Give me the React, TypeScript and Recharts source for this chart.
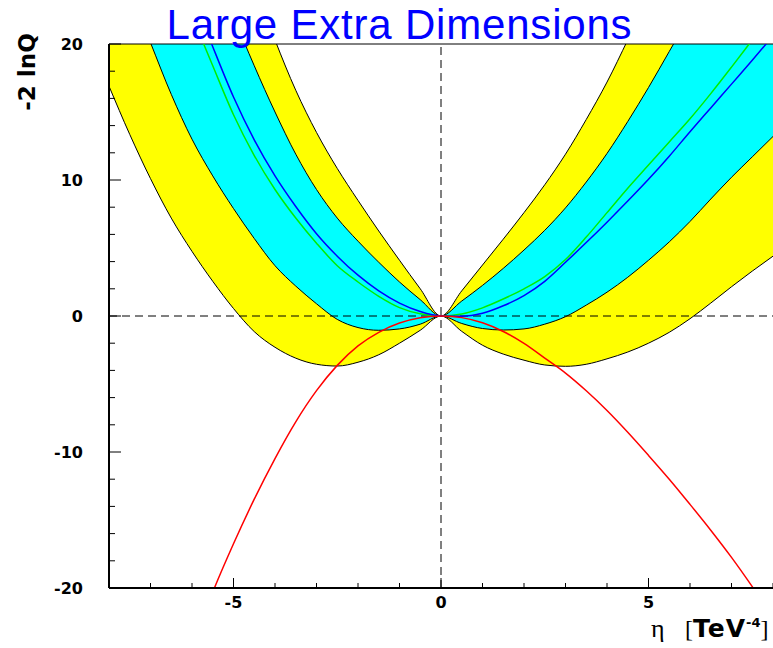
import React from "react";
import {
  ComposedChart, Area, Line, XAxis, YAxis, ReferenceLine,
} from "recharts";

// eta grid in TeV^-4
const eta = [
  -8, -7.5, -7, -6.5, -6, -5.5, -5, -4.5, -4, -3.5, -3, -2.5, -2, -1.5, -1, -0.5,
  0, 0.5, 1, 1.5, 2, 2.5, 3, 3.5, 4, 4.5, 5, 5.5, 6, 6.5, 7, 7.5, 8,
];

// -2lnQ, 2 sigma band edges
const band2Low = [
  16.9, 13.35, 10.1, 7.2, 4.75, 2.55, 0.55, -1.15, -2.3, -3.1, -3.55, -3.68, -3.4, -2.85, -2.0, -1.05,
  0, -1.13, -2.15, -2.8, -3.25, -3.6, -3.7, -3.55, -3.15, -2.65, -2.0, -1.2, -0.2, 0.95, 2.15, 3.3, 4.4,
];
const band2High = [
  60, 54, 48.5, 43, 38, 33, 28.6, 24.5, 20.3, 16.6, 13.5, 10.85, 8.5, 6.25, 4.1, 2.0,
  0, 1.85, 3.75, 5.65, 7.6, 9.65, 11.9, 14.45, 17.2, 20.3, 23.5, 27, 30.5, 34, 38, 42, 46,
];

// -2lnQ, 1 sigma band edges
const band1Low = [
  28, 24, 20.1, 16.3, 13.0, 10.3, 7.9, 5.7, 3.7, 2.2, 0.9, -0.25, -0.85, -1.05, -0.95, -0.6,
  0, -0.55, -0.92, -1.03, -0.95, -0.6, -0.05, 0.8, 1.75, 2.85, 4.1, 5.45, 6.95, 8.6, 10.2, 11.7, 13.2,
];
const band1High = [
  50, 45, 40, 35.5, 31, 26.5, 22.1, 18.4, 15.0, 11.9, 9.3, 7.2, 5.5, 3.95, 2.5, 1.2,
  0, 1.1, 2.25, 3.5, 4.85, 6.3, 7.95, 9.85, 11.95, 14.3, 16.8, 19.45, 22.1, 24.8, 27.6, 30.5, 33.4,
];

// median curves and observed
const greenCurve = [
  39, 34.5, 30.2, 26, 22.1, 18.4, 14.8, 11.8, 9.3, 7.2, 5.35, 3.7, 2.5, 1.45, 0.62, 0.16,
  0, 0.15, 0.6, 1.25, 2.0, 2.9, 4.15, 5.8, 7.6, 9.4, 11.1, 12.8, 14.5, 16.35, 18.3, 20.3, 22.3,
];
const blueCurve = [
  41, 36.3, 31.9, 27.7, 23.7, 19.8, 16.1, 12.95, 10.3, 8.05, 6.05, 4.4, 3.0, 1.85, 0.95, 0.33,
  0, -0.02, 0.2, 0.75, 1.5, 2.55, 3.95, 5.4, 6.9, 8.45, 10.05, 11.75, 13.55, 15.3, 17.05, 18.8, 20.6,
];
const redCurve = [
  -43, -37.8, -33, -28.5, -24.3, -20.3, -16.75, -13.47, -10.48, -7.78, -5.49, -3.63, -2.2, -1.2, -0.52, -0.13,
  0, -0.12, -0.5, -1.14, -2.02, -3.1, -4.2, -5.5, -6.95, -8.55, -10.25, -12.0, -13.85, -15.75, -17.75, -19.9, -22.15,
];

const xTicks = [-8, -7, -6, -5, -4, -3, -2, -1, 0, 1, 2, 3, 4, 5, 6, 7, 8];
const xLabels = [-5, 0, 5];
const yTicks = [-20, -18, -16, -14, -12, -10, -8, -6, -4, -2, 0, 2, 4, 6, 8, 10, 12, 14, 16, 18, 20];
const yLabels = [-20, -10, 0, 10, 20];

const rows = eta.map((x, i) => ({
  x,
  band2: [band2Low[i], band2High[i]],
  band1: [band1Low[i], band1High[i]],
  green: greenCurve[i],
  blue: blueCurve[i],
  red: redCurve[i],
}));

const W = 773;
const H = 648;
const tickFont = { fontFamily: "DejaVu Sans", fontWeight: "bold" as const, fontSize: 16, fill: "#000" };

// ticks point into the frame, labels only on the majors
const YTick = (p: any) => {
  const v = p.payload.value;
  const ax = p.x + 26;
  const major = yLabels.includes(v);
  return (
    <g>
      <line x1={ax} x2={ax + (major ? 12 : 6)} y1={p.y} y2={p.y} stroke="#000" />
      {major && <text x={p.x} y={p.y + 6} textAnchor="end" {...tickFont}>{v}</text>}
    </g>
  );
};

const XTick = (p: any) => {
  const v = p.payload.value;
  const major = xLabels.includes(v);
  return (
    <g>
      <line x1={p.x} x2={p.x} y1={p.y} y2={p.y - (major ? 10 : 5)} stroke="#000" />
      {major && <text x={p.x} y={p.y + 20} textAnchor="middle" {...tickFont}>{v}</text>}
    </g>
  );
};

export default function App() {
  return (
    <div style={{ position: "absolute", left: 0, top: 0, width: W, height: H, background: "#fff" }}>
      <ComposedChart width={W} height={H} data={rows} margin={{ top: 44, right: 0, bottom: 0, left: 0 }}>
        <XAxis dataKey="x" type="number" domain={[-8, 8]} ticks={xTicks} interval={0}
          allowDataOverflow height={60} tickSize={0} tickMargin={0} tickLine={false}
          axisLine={{ stroke: "#000", strokeWidth: 2 }} tick={XTick} />
        <YAxis type="number" domain={[-20, 20]} ticks={yTicks} interval={0}
          allowDataOverflow width={109} tickSize={0} tickMargin={26} tickLine={false}
          axisLine={{ stroke: "#000", strokeWidth: 2 }} tick={YTick} />
        <Area dataKey="band2" type="monotone" fill="#ffff00" fillOpacity={1}
          stroke="#000" strokeWidth={1} isAnimationActive={false} />
        <Area dataKey="band1" type="monotone" fill="#00ffff" fillOpacity={1}
          stroke="#000" strokeWidth={1} isAnimationActive={false} />
        <ReferenceLine y={0} stroke="#000" strokeDasharray="8 5" />
        <ReferenceLine x={0} stroke="#000" strokeDasharray="8 5" />
        <ReferenceLine y={20} stroke="#000" />
        <Line dataKey="green" type="monotone" stroke="#00ee00" strokeWidth={1.5} dot={false} isAnimationActive={false} />
        <Line dataKey="blue" type="monotone" stroke="#0000ff" strokeWidth={1.5} dot={false} isAnimationActive={false} />
        <Line dataKey="red" type="monotone" stroke="#ff0000" strokeWidth={1.5} dot={false} isAnimationActive={false} />
      </ComposedChart>
      <svg width={W} height={H} style={{ position: "absolute", left: 0, top: 0, pointerEvents: "none" }}>
        <text x={399.5} y={39} textAnchor="middle" fontFamily="Liberation Sans, Arial" fontSize={42}
          letterSpacing={0.8} fill="#0000ff">
          Large Extra Dimensions
        </text>
        <text transform="translate(35,72) rotate(-90)" textAnchor="middle" fontFamily="DejaVu Sans"
          fontWeight="bold" fontSize={23}>-2 lnQ</text>
        <text x={651} y={637} fontFamily="Liberation Serif" fontSize={26}>η</text>
        <text x={685} y={637} fontFamily="Liberation Serif" fontSize={24}>
          [<tspan fontFamily="DejaVu Sans" fontWeight="bold" fontSize={25} letterSpacing={1}>TeV</tspan>
          <tspan fontFamily="DejaVu Sans" fontWeight="bold" fontSize={13} dy={-10}>-4</tspan>
          <tspan dy={10}>]</tspan>
        </text>
      </svg>
    </div>
  );
}
